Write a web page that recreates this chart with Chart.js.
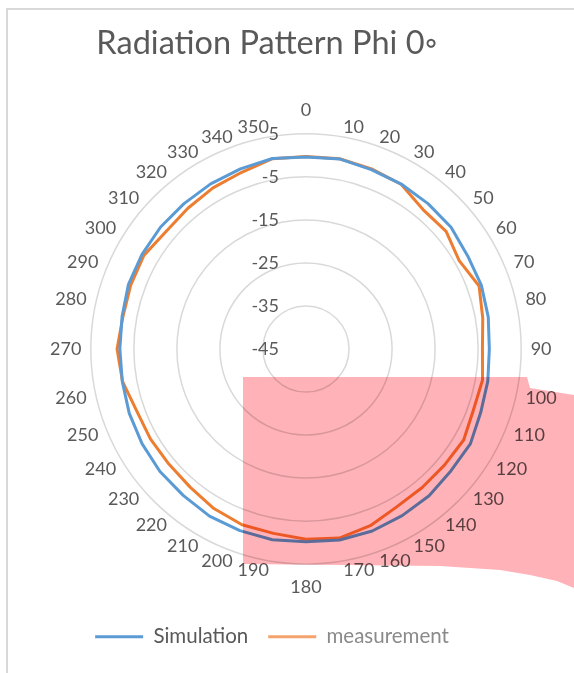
<!DOCTYPE html>
<html>
<head>
<meta charset="utf-8">
<script src="https://cdn.jsdelivr.net/npm/chart.js@4.4.0/dist/chart.umd.min.js"></script>
<style>
  html, body { margin: 0; padding: 0; background: #fff; }
  body { width: 574px; height: 673px; overflow: hidden; position: relative; }
  #frame { position: absolute; left: 6px; top: 8px; width: 640px; height: 720px;
           border-top: 2px solid #d9d9d9; border-left: 2px solid #d9d9d9; }
  #wrap { position: absolute; left: 0; top: 0; width: 574px; height: 673px; }
  #highlight { position: absolute; left: 243px; top: 377px; width: 331px; height: 212px;
               background: #ffb2b8; mix-blend-mode: multiply; pointer-events: none;
               clip-path: polygon(0 0, 284px 0, 287px 11px, 331px 18px, 331px 211px, 314px 204px,
                                  287px 198px, 257px 193px, 197px 189px, 0 187px); }
</style>
</head>
<body>
<div id="frame"></div>
<div id="wrap"><canvas id="patternChart"></canvas></div>
<div id="highlight"></div>
<script>
// angles (deg) around the pattern
const angles = ['0', '10', '20', '30', '40', '50', '60', '70', '80', '90', '100', '110',
                '120', '130', '140', '150', '160', '170', '180', '190', '200', '210', '220', '230',
                '240', '250', '260', '270', '280', '290', '300', '310', '320', '330', '340', '350'];

// gain in dB
const simulation = [-0.4, -0.15, -0.65, -0.75, -0.9, -1.0, -1.65, -1.65, -2.0, -2.4, -2.1, -1.8,
                    -0.9, -1.0, -0.5, -0.3, 0.0, 0.05, -0.2, 0.0, -0.1, -0.15, -0.6, -0.7,
                    -1.0, -1.3, -1.65, -1.75, -1.6, -1.1, -1.0, -0.9, -0.9, -0.7, -0.45, -0.05];
const measurement = [-0.25, -0.1, -0.45, -0.8, -2.7, -2.5, -3.9, -2.2, -3.3, -4.0, -3.35, -3.6,
                     -2.7, -3.0, -3.0, -2.7, -1.3, -0.4, -0.8, -1.5, -1.55, -2.2, -3.1, -3.4,
                     -3.25, -3.1, -1.7, -1.1, -1.8, -1.65, -1.5, -2.55, -2.3, -1.75, -1.3, -0.1];

// radial axis ticks
const radialTicks = [-45, -35, -25, -15, -5, 5];

const FONT = 'Lato';
const TEXT = '#595959';

// radial tick labels sit left of the vertical axis, like Excel does it
const tickLabels = {
    id: 'tickLabels',
    beforeDatasetsDraw(chart) {
        const r = chart.scales.r;
        const ctx = chart.ctx;
        ctx.save();
        ctx.font = '18px ' + FONT;
        ctx.fillStyle = TEXT;
        ctx.textAlign = 'right';
        ctx.textBaseline = 'middle';
        radialTicks.forEach(v => {
            ctx.fillText(String(v), r.xCenter - 27, r.yCenter - r.getDistanceFromCenterForValue(v));
        });
        ctx.restore();
    }
};

// title and legend are centred a bit left of the plot in the original
const shiftBoxes = {
    id: 'shiftBoxes',
    afterLayout(chart) {
        const t = chart.titleBlock, l = chart.legend;
        if (t) { t.left -= 37; t.right -= 37; }
        if (l) { l.left -= 32; l.right -= 32; }
    }
};

const legendColors = ['#595959', '#8a8a8a'];

const ctx = document.getElementById('patternChart').getContext('2d');
const patternChart = new Chart(ctx, {
    type: 'radar',
    data: {
        labels: angles,
        datasets: [{
            label: 'Simulation',
            data: simulation,
            borderColor: '#5b9bd5',
            backgroundColor: '#5b9bd5',
            borderWidth: 3,
            fill: false,
            pointRadius: 0
        }, {
            label: 'measurement',
            data: measurement,
            borderColor: '#ed7d31',
            backgroundColor: '#f4a36c',
            borderWidth: 3,
            fill: false,
            pointRadius: 0
        }]
    },
    options: {
        responsive: true,
        maintainAspectRatio: false,
        animation: false,
        layout: {
            padding: { left: 48, right: 14, top: 10, bottom: 16 }
        },
        elements: {
            line: { tension: 0, borderJoinStyle: 'round' }
        },
        scales: {
            r: {
                min: radialTicks[0],
                max: radialTicks[radialTicks.length - 1],
                ticks: { stepSize: 10, display: false },
                grid: { circular: true, color: '#d9d9d9', lineWidth: 1.5 },
                angleLines: { display: false },
                pointLabels: {
                    color: TEXT,
                    font: { family: FONT, size: 18 },
                    // Excel centres the labels on the ring, chart.js hangs them off it
                    padding: c => {
                        const deg = Number(angles[c.index]);
                        if (deg % 180 === 0) return 12.5;
                        return 9.5 - 11 * Math.abs(Math.cos(deg * Math.PI / 180));
                    }
                }
            }
        },
        plugins: {
            title: {
                display: true,
                text: 'Radiation Pattern Phi 0\u25e6',
                color: TEXT,
                font: { family: FONT, size: 32.5, weight: 'normal' },
                padding: { top: 14.5, bottom: 30 }
            },
            legend: {
                position: 'bottom',
                labels: {
                    boxWidth: 48,
                    boxHeight: 3,
                    padding: 20,
                    font: { family: FONT, size: 20.5 },
                    generateLabels: chart =>
                        Chart.defaults.plugins.legend.labels.generateLabels(chart).map((item, i) =>
                            Object.assign(item, { lineWidth: 0, fontColor: legendColors[i] }))
                }
            },
            tooltip: { enabled: false }
        }
    },
    plugins: [tickLabels, shiftBoxes]
});
</script>
</body>
</html>
